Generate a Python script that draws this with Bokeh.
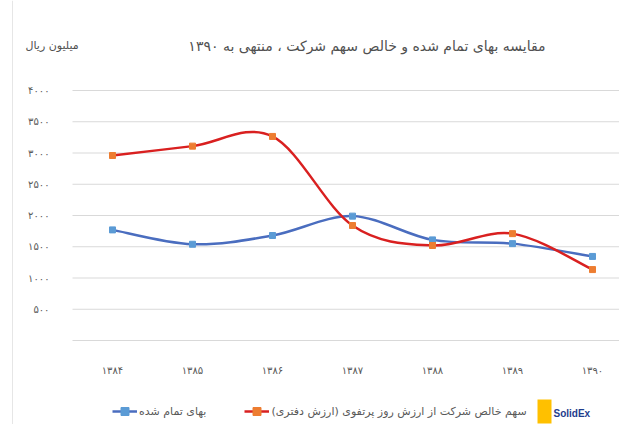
from bokeh.plotting import figure
from bokeh.models import (Range1d, FixedTicker, Label, Legend, LegendItem, BoxAnnotation, Span)
from bokeh.embed import file_html
from bokeh.resources import INLINE

# ---- data ----
years = [1384, 1385, 1386, 1387, 1388, 1389, 1390]
year_labels = ["۱۳۸۴", "۱۳۸۵", "۱۳۸۶", "۱۳۸۷", "۱۳۸۸", "۱۳۸۹", "۱۳۹۰"]
cost_price = [1770, 1540, 1680, 1990, 1610, 1550, 1345]
net_share = [2960, 3110, 3265, 1840, 1520, 1710, 1135]
y_ticks = [0, 500, 1000, 1500, 2000, 2500, 3000, 3500, 4000]
y_tick_labels = ["", "۵۰۰", "۱۰۰۰", "۱۵۰۰", "۲۰۰۰", "۲۵۰۰", "۳۰۰۰", "۳۵۰۰", "۴۰۰۰"]

title_text = "مقایسه بهای تمام شده و خالص سهم شرکت ، منتهی به ۱۳۹۰"
unit_text = "میلیون ریال"
series_names = ["بهای تمام شده", "سهم خالص شرکت از ارزش روز پرتفوی (ارزش دفتری)"]
logo_text = "SolidEx"

FONT = "DejaVu Sans"
TXT = "#595959"
W, H = 619, 424
PX_X = 80.0      # pixels per year
PX_Y = 1 / 16.0  # pixels per unit
x0 = 1384 - 112 / PX_X
y0 = -(H - 340) / PX_Y

p = figure(width=W, height=H, output_backend="svg", toolbar_location=None,
           x_range=Range1d(x0, x0 + W / PX_X), y_range=Range1d(y0, y0 + H / PX_Y),
           min_border=0)
p.outline_line_color = None
p.background_fill_color = "white"
p.border_fill_color = "white"

grid_left = x0 + 72 / PX_X
grid_right = x0 + 619 / PX_X

p.xaxis.ticker = FixedTicker(ticks=years)
p.xaxis.major_label_overrides = {y: l for y, l in zip(years, year_labels)}
p.xaxis.fixed_location = 0
p.yaxis.ticker = FixedTicker(ticks=y_ticks)
p.yaxis.major_label_overrides = {t: l for t, l in zip(y_ticks, y_tick_labels)}
p.yaxis.fixed_location = grid_left
for ax in (p.xaxis, p.yaxis):
    ax.axis_line_color = None
    ax.major_tick_line_color = None
    ax.minor_tick_line_color = None
    ax.major_label_text_font = FONT
    ax.major_label_text_font_size = "10px"
    ax.major_label_text_color = TXT
p.xaxis.major_label_standoff = 18
p.yaxis.major_label_standoff = 17
p.xgrid.grid_line_color = None
p.ygrid.grid_line_color = None

# horizontal gridlines at the y ticks
p.segment(x0=[grid_left] * len(y_ticks), x1=[grid_right] * len(y_ticks),
          y0=y_ticks, y1=y_ticks, line_color="#D9D9D9", line_width=1)

# faint chart border at the left
p.add_layout(Span(location=x0 + 12 / PX_X, dimension="height",
                  line_color="#E6E6E6", line_width=1))


def smooth_segments(xs, ys, t=1.0 / 6.0):
    n = len(xs)
    segs = {k: [] for k in ("x0", "y0", "x1", "y1", "cx0", "cy0", "cx1", "cy1")}
    for i in range(n - 1):
        xp, yp = (xs[i - 1], ys[i - 1]) if i > 0 else (xs[i], ys[i])
        xn, yn = (xs[i + 2], ys[i + 2]) if i + 2 < n else (xs[i + 1], ys[i + 1])
        segs["x0"].append(xs[i]); segs["y0"].append(ys[i])
        segs["x1"].append(xs[i + 1]); segs["y1"].append(ys[i + 1])
        segs["cx0"].append(xs[i] + (xs[i + 1] - xp) * t)
        segs["cy0"].append(ys[i] + (ys[i + 1] - yp) * t)
        segs["cx1"].append(xs[i + 1] - (xn - xs[i]) * t)
        segs["cy1"].append(ys[i + 1] - (yn - ys[i]) * t)
    return segs


styles = [("#4A6DBF", "#5B9BD5"), ("#D92020", "#ED7D31")]
items = []
for vals, name, (lc, mc) in zip([cost_price, net_share], series_names, styles):
    s = smooth_segments(years, vals)
    rl = p.bezier(line_color=lc, line_width=2.5, **s)
    rm = p.scatter(years, vals, marker="square", size=6, fill_color=mc, line_color=mc)
    items.append(LegendItem(label=name, renderers=[rl, rm]))

legend = Legend(items=items, orientation="horizontal", location=(112, 3),
                padding=0, margin=0, spacing=38, glyph_width=25, glyph_height=20,
                label_standoff=2, border_line_color=None, background_fill_alpha=0,
                label_text_font=FONT, label_text_font_size="11px", label_text_color=TXT)
p.add_layout(legend, "center")

p.add_layout(Label(x=545, y=H - 45, x_units="screen", y_units="screen", text=title_text,
                   text_align="right", text_baseline="middle", text_font=FONT,
                   text_font_size="14px", text_color="#505050"))
p.add_layout(Label(x=25, y=H - 45, x_units="screen", y_units="screen", text=unit_text,
                   text_align="left", text_baseline="middle", text_font=FONT,
                   text_font_size="11px", text_color="#505050"))
# logo
p.add_layout(BoxAnnotation(left=537, right=551, bottom=1, top=H - 399,
                           left_units="screen", right_units="screen",
                           bottom_units="screen", top_units="screen",
                           fill_color="#FFC000", fill_alpha=1, line_color=None))
p.add_layout(Label(x=553, y=H - 413, x_units="screen", y_units="screen", text=logo_text,
                   text_baseline="middle", text_font="Liberation Sans", text_font_style="bold",
                   text_font_size="10px", text_color="#1F3D8C"))

open("out.html", "w").write(file_html(p, INLINE))
